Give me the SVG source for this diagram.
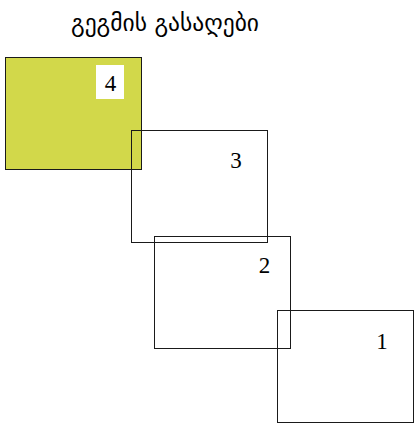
<svg xmlns="http://www.w3.org/2000/svg" width="419" height="428" viewBox="0 0 419 428">
<style>
.box{fill:none;stroke:#1a1a1a;stroke-width:1}
.num{font-family:"Liberation Serif","DejaVu Serif",serif;font-size:23px;fill:#000;text-anchor:middle}
.title{font-family:"DejaVu Sans","Noto Sans",sans-serif;font-size:23.5px;fill:#000;text-anchor:middle}
</style>
<rect width="419" height="428" fill="#fff"/>
<text class="title" x="165" y="31">გეგმის გასაღები</text>
<g id="node4">
<rect x="5.5" y="57.5" width="136" height="112" fill="#d2d84a" stroke="#1a1a1a"/>
<rect x="96" y="65" width="28" height="34" fill="#fff"/>
<text class="num" x="110.5" y="91">4</text>
</g>
<g id="node3">
<rect class="box" x="131.5" y="130.5" width="136" height="112"/>
<text class="num" x="236" y="168">3</text>
</g>
<g id="node2">
<rect class="box" x="154.5" y="236.5" width="136" height="112"/>
<text class="num" x="264.5" y="273">2</text>
</g>
<g id="node1">
<rect class="box" x="277.5" y="310.5" width="136" height="112"/>
<text class="num" x="382" y="349">1</text>
</g>
<g id="connectors"></g>
</svg>
